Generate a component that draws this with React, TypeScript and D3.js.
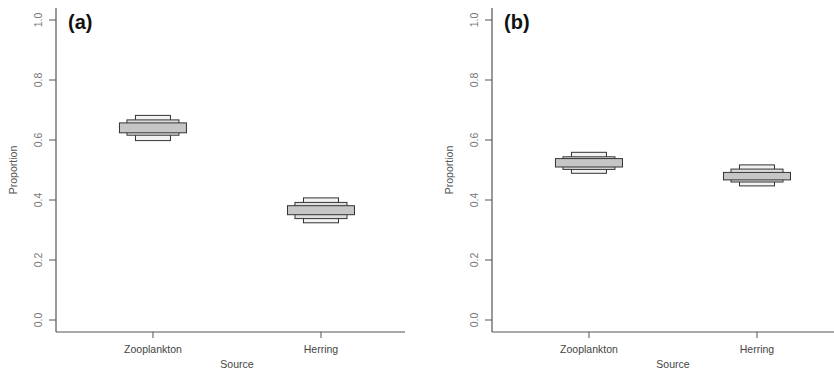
import React from "react";
import * as d3 from "d3";

const sources = ["Zooplankton", "Herring"];
const yTicks = [0, 0.2, 0.4, 0.6, 0.8, 1.0];
// credible intervals [low, high] per source, panel a
const a95 = [[0.598, 0.682], [0.324, 0.407]];
const a75 = [[0.616, 0.667], [0.338, 0.392]];
const a50 = [[0.624, 0.657], [0.351, 0.381]];
// panel b
const b95 = [[0.489, 0.559], [0.447, 0.517]];
const b75 = [[0.502, 0.544], [0.46, 0.503]];
const b50 = [[0.51, 0.538], [0.467, 0.492]];

const panels = [
  { label: "(a)", left: 56, i95: a95, i75: a75, i50: a50 },
  { label: "(b)", left: 492, i95: b95, i75: b75, i50: b50 },
];

const levels = [
  { key: "i95", w: 35, fill: "#f2f2f2" },
  { key: "i75", w: 52, fill: "#dedede" },
  { key: "i50", w: 67, fill: "#c6c6c6" },
];

const font = "'Liberation Sans', Arial, Helvetica, sans-serif";

function Panel({ p }: { p: any }) {
  const y = d3.scaleLinear().domain([-0.04, 1.04]).range([332, 8]);
  const x = d3.scaleLinear().domain([0.423, 2.5]).range([p.left, p.left + 349]);
  const axisColor = "#555";
  return (
    <g>
      <line x1={p.left} x2={p.left} y1={y(1.04)} y2={y(-0.04)} stroke={axisColor} strokeWidth={1.2} />
      <line x1={p.left} x2={x(2.5)} y1={y(-0.04)} y2={y(-0.04)} stroke={axisColor} strokeWidth={1.2} />
      {yTicks.map((t) => (
        <g key={t}>
          <line x1={p.left - 7} x2={p.left} y1={y(t)} y2={y(t)} stroke={axisColor} strokeWidth={1} />
          <text
            transform={`translate(${p.left - 14},${y(t)}) rotate(-90)`}
            textAnchor="middle"
            fontSize={10.5}
            fill="#777"
            fontFamily={font}
          >
            {t.toFixed(1)}
          </text>
        </g>
      ))}
      {sources.map((s, i) => (
        <g key={s}>
          <line x1={x(i + 1)} x2={x(i + 1)} y1={y(-0.04)} y2={y(-0.04) + 6} stroke={axisColor} strokeWidth={1} />
          <text x={x(i + 1)} y={353} textAnchor="middle" fontSize={10.5} fill="#444" fontFamily={font}>
            {s}
          </text>
        </g>
      ))}
      <text x={x(1.5)} y={368} textAnchor="middle" fontSize={10.5} fill="#444" fontFamily={font}>
        Source
      </text>
      <text
        transform={`translate(${p.left - 39},${y(0.5)}) rotate(-90)`}
        textAnchor="middle"
        fontSize={10.5}
        fill="#555"
        fontFamily={font}
      >
        Proportion
      </text>
      <text x={p.left + 12} y={29} fontSize={20} fontWeight="bold" fill="#111" fontFamily={font}>
        {p.label}
      </text>
      {levels.map((lv) =>
        sources.map((s, i) => {
          const [lo, hi] = p[lv.key][i];
          const cx = x(i + 1);
          return (
            <rect
              key={lv.key + s}
              x={cx - lv.w / 2}
              width={lv.w}
              y={y(hi)}
              height={y(lo) - y(hi)}
              fill={lv.fill}
              stroke="#333"
              strokeWidth={1}
            />
          );
        })
      )}
    </g>
  );
}

export default function App() {
  return (
    <svg width={834} height={369} style={{ position: "absolute", left: 0, top: 0, background: "#fff" }}>
      <rect width={834} height={369} fill="#fff" />
      {panels.map((p) => (
        <Panel key={p.label} p={p} />
      ))}
    </svg>
  );
}
